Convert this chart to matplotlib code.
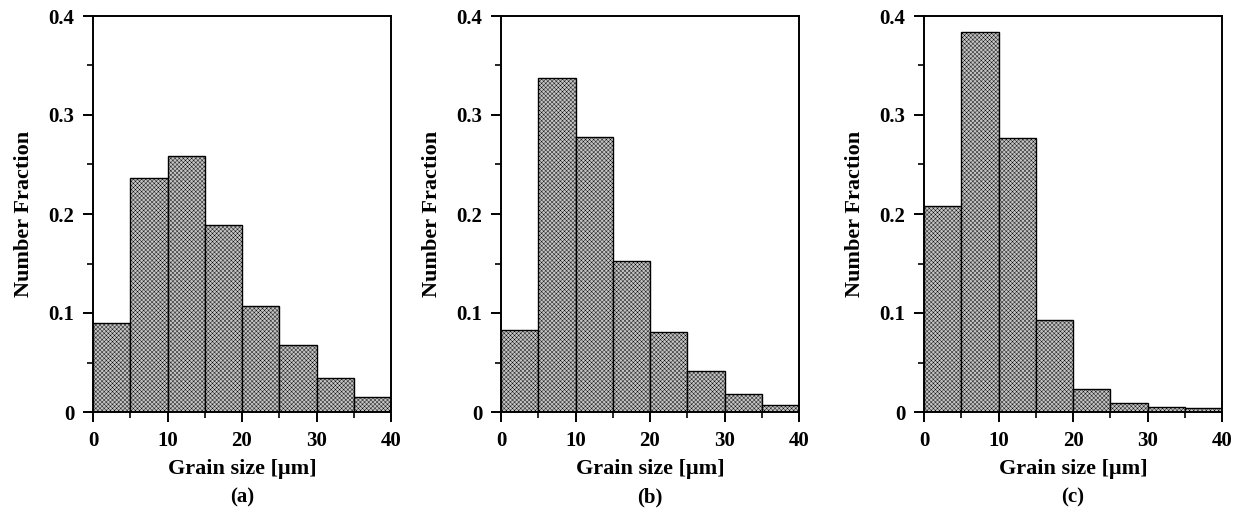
import matplotlib
matplotlib.use("Agg")
import matplotlib.pyplot as plt
from matplotlib.ticker import MultipleLocator

plt.rcParams['font.family'] = ['Liberation Serif', 'DejaVu Serif']
plt.rcParams['font.weight'] = 'bold'
plt.rcParams['hatch.linewidth'] = 0.3
plt.rcParams['hatch.color'] = '#909090'

bin_edges = [0, 5, 10, 15, 20, 25, 30, 35]
bin_width = 5
frac_a = [0.090, 0.236, 0.259, 0.189, 0.107, 0.068, 0.034, 0.015]
frac_b = [0.083, 0.337, 0.278, 0.153, 0.081, 0.041, 0.018, 0.007]
frac_c = [0.208, 0.384, 0.277, 0.093, 0.0235, 0.0094, 0.0054, 0.0037]
panels = ['(a)', '(b)', '(c)']
xticks = [0, 10, 20, 30, 40]
yticks = [0, 0.1, 0.2, 0.3, 0.4]
yticklabels = ['0', '0.1', '0.2', '0.3', '0.4']

W, H = 1245, 512
fig = plt.figure(figsize=(W / 100, H / 100), dpi=100)
lefts = [93, 501, 924]
for left, vals, tag in zip(lefts, [frac_a, frac_b, frac_c], panels):
    ax = fig.add_axes([left / W, 1 - 412 / H, 298 / W, 396 / H])
    ax.bar(bin_edges, vals, width=bin_width, align='edge', facecolor='#c4c4c4',
           edgecolor='black', linewidth=1.0, hatch='xxxxxxxx')
    ax.set_xlim(0, 40)
    ax.set_ylim(0, 0.4)
    ax.set_xticks(xticks)
    ax.set_xticklabels([str(x) for x in xticks])
    ax.set_yticks(yticks)
    ax.set_yticklabels(yticklabels)
    ax.xaxis.set_minor_locator(MultipleLocator(5))
    ax.yaxis.set_minor_locator(MultipleLocator(0.05))
    ax.tick_params(which='major', direction='out', length=7.5, width=1.4,
                   labelsize=15, top=False, right=False, pad=6)
    ax.tick_params(which='minor', direction='out', length=4.5, width=1.2,
                   top=False, right=False)
    for lab in ax.get_xticklabels() + ax.get_yticklabels():
        lab.set_fontweight('bold')
    for s in ax.spines.values():
        s.set_linewidth(1.4)
    ax.set_xlabel('Grain size [\u03bcm]', fontsize=16, fontweight='bold', labelpad=6)
    ax.set_ylabel('Number Fraction', fontsize=16, fontweight='bold', labelpad=10)
    fig.text((left + 149) / W, (H - 497) / H, tag, ha='center', va='center',
             fontsize=15, fontweight='bold')

fig.savefig('out.png', dpi=100)
